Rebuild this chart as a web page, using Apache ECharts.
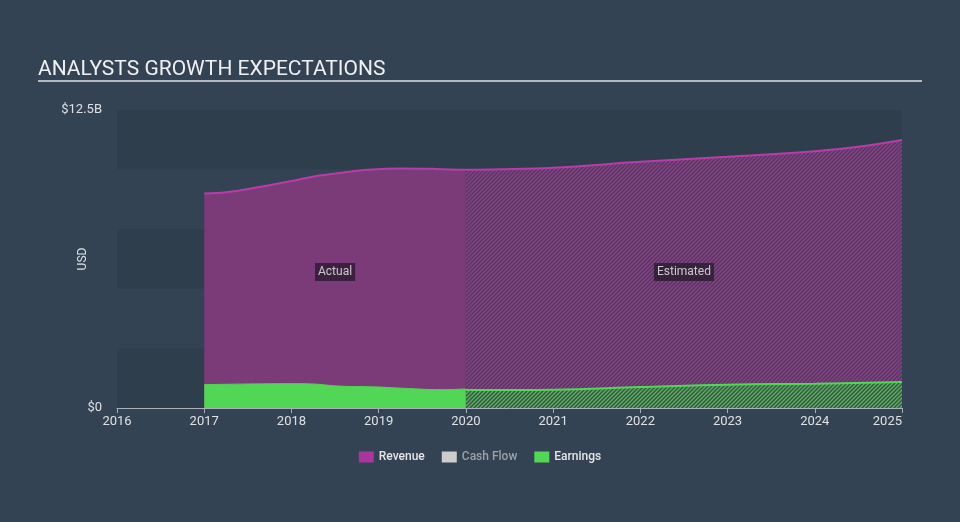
<!DOCTYPE html>
<html>
<head>
<meta charset="utf-8">
<script src="https://cdn.jsdelivr.net/npm/echarts@6/dist/echarts.min.js"></script>
<style>
  html, body { margin: 0; padding: 0; background: #344353; }
  #chart { width: 960px; height: 522px; }
</style>
</head>
<body>
<div id="chart"></div>
<script>
// values in $B, x in fractional years
const revenueActual = [
  [2017, 9.0], [2017.25, 9.05], [2017.65, 9.28], [2018, 9.52], [2018.27, 9.72],
  [2018.58, 9.87], [2018.88, 9.99], [2019.27, 10.05], [2019.65, 10.03], [2020, 9.99]
]
const revenueEstimated = [
  [2020, 9.99], [2021, 10.08], [2022, 10.33], [2023, 10.54], [2024, 10.77],
  [2024.5, 10.96], [2025, 11.24]
]
const earningsActual = [
  [2017, 0.98], [2018, 1.02], [2018.23, 1.01], [2018.54, 0.92], [2019, 0.88],
  [2019.2, 0.84], [2019.74, 0.77], [2020, 0.8]
]
const earningsEstimated = [
  [2020, 0.75], [2021, 0.77], [2022, 0.88], [2023, 0.98], [2024, 1.02], [2025, 1.09]
]
const phases = [
  { name: 'Actual', from: 2017, to: 2020 },
  { name: 'Estimated', from: 2020, to: 2025 }
]
const phaseLabelY = 5.7

function hatch(base, stripe) {
  const c = document.createElement('canvas')
  c.width = 4
  c.height = 4
  const ctx = c.getContext('2d')
  ctx.fillStyle = base
  ctx.fillRect(0, 0, 4, 4)
  ctx.strokeStyle = stripe
  ctx.lineWidth = 1.4
  ctx.beginPath()
  ctx.moveTo(0, 4); ctx.lineTo(4, 0)
  ctx.moveTo(-1, 1); ctx.lineTo(1, -1)
  ctx.moveTo(3, 5); ctx.lineTo(5, 3)
  ctx.stroke()
  return c
}

const chart = echarts.init(document.getElementById('chart'))

const font = 'Roboto, sans-serif'

chart.setOption({
  backgroundColor: '#344353',
  animation: false,
  textStyle: { fontFamily: font },
  title: {
    text: 'ANALYSTS GROWTH EXPECTATIONS',
    left: 33,
    top: 54,
    textStyle: { color: '#eef0f2', fontSize: 21, fontWeight: 'normal', fontFamily: font }
  },
  graphic: [{
    type: 'line',
    shape: { x1: 38, y1: 81, x2: 922, y2: 81 },
    style: { stroke: '#b4b9c0', lineWidth: 2 }
  }],
  legend: {
    bottom: 54,
    left: 'center',
    itemWidth: 15,
    itemHeight: 11,
    itemGap: 17,
    icon: 'rect',
    textStyle: { color: '#e6e6e6', fontSize: 12, fontWeight: 500, fontFamily: font },
    data: [
      { name: 'Revenue' },
      { name: 'Cash Flow', textStyle: { color: '#9aa1a9' } },
      { name: 'Earnings' }
    ]
  },
  grid: { left: 117, right: 58, top: 110, bottom: 114 },
  xAxis: {
    type: 'value',
    min: 2016,
    max: 2025,
    interval: 1,
    axisLine: { lineStyle: { color: '#a7afba', width: 1 } },
    axisTick: { length: 5, lineStyle: { color: '#a7afba' } },
    splitLine: { show: false },
    axisLabel: {
      color: '#dde0e4', fontSize: 13, margin: 7, fontFamily: font,
      alignMaxLabel: 'right',
      formatter: v => String(v)
    }
  },
  yAxis: {
    type: 'value',
    min: 0,
    max: 12.5,
    interval: 2.5,
    name: 'USD',
    nameLocation: 'middle',
    nameRotate: 90,
    nameGap: 28,
    nameMoveOverlap: false,
    nameTextStyle: { color: '#dde0e4', fontSize: 12 },
    axisLine: { show: false },
    axisTick: { show: false },
    splitLine: { show: false },
    splitArea: { show: true, areaStyle: { color: ['rgba(20,30,40,0.12)', 'rgba(0,0,0,0)'] } },
    axisLabel: {
      color: '#dde0e4', fontSize: 13, margin: 15, fontFamily: font,
      formatter: v => v === 0 ? '$0' : (v === 12.5 ? '$12.5B' : '')
    }
  },
  series: [
    {
      name: 'Revenue', type: 'line', data: revenueActual, smooth: 0.4, showSymbol: false,
      lineStyle: { color: '#b83da9', width: 2 },
      itemStyle: { color: '#a8369c' },
      areaStyle: { color: '#7b3a78', opacity: 1 }
    },
    {
      name: 'Revenue', type: 'line', data: revenueEstimated, smooth: 0.4, showSymbol: false,
      lineStyle: { color: '#b83da9', width: 2 },
      itemStyle: { color: '#a8369c' },
      areaStyle: { color: { image: hatch('#4f3a5c', '#8f3f8a'), repeat: 'repeat' }, opacity: 1 }
    },
    {
      name: 'Cash Flow', type: 'line', data: [],
      itemStyle: { color: '#cccccc' }
    },
    {
      name: 'Earnings', type: 'line', data: earningsActual, smooth: 0.4, showSymbol: false,
      lineStyle: { color: '#52d655', width: 1 },
      itemStyle: { color: '#52d655' },
      areaStyle: { color: '#52d655', opacity: 1 }
    },
    {
      name: 'Earnings', type: 'line', data: earningsEstimated, smooth: 0.4, showSymbol: false,
      lineStyle: { color: '#52d655', width: 2 },
      itemStyle: { color: '#52d655' },
      areaStyle: { color: { image: hatch('#3b5448', '#56b25a'), repeat: 'repeat' }, opacity: 1 }
    },
    {
      name: 'phase', type: 'scatter', z: 10, silent: true,
      symbolSize: 0,
      data: phases.map(p => ({ name: p.name, value: [(p.from + p.to) / 2, phaseLabelY] })),
      label: {
        show: true,
        position: 'inside',
        formatter: '{b}',
        color: '#f0f0f0',
        fontSize: 12,
        fontFamily: font,
        backgroundColor: 'rgba(30,22,36,0.85)',
        padding: [3, 3]
      }
    }
  ]
})
</script>
</body>
</html>
